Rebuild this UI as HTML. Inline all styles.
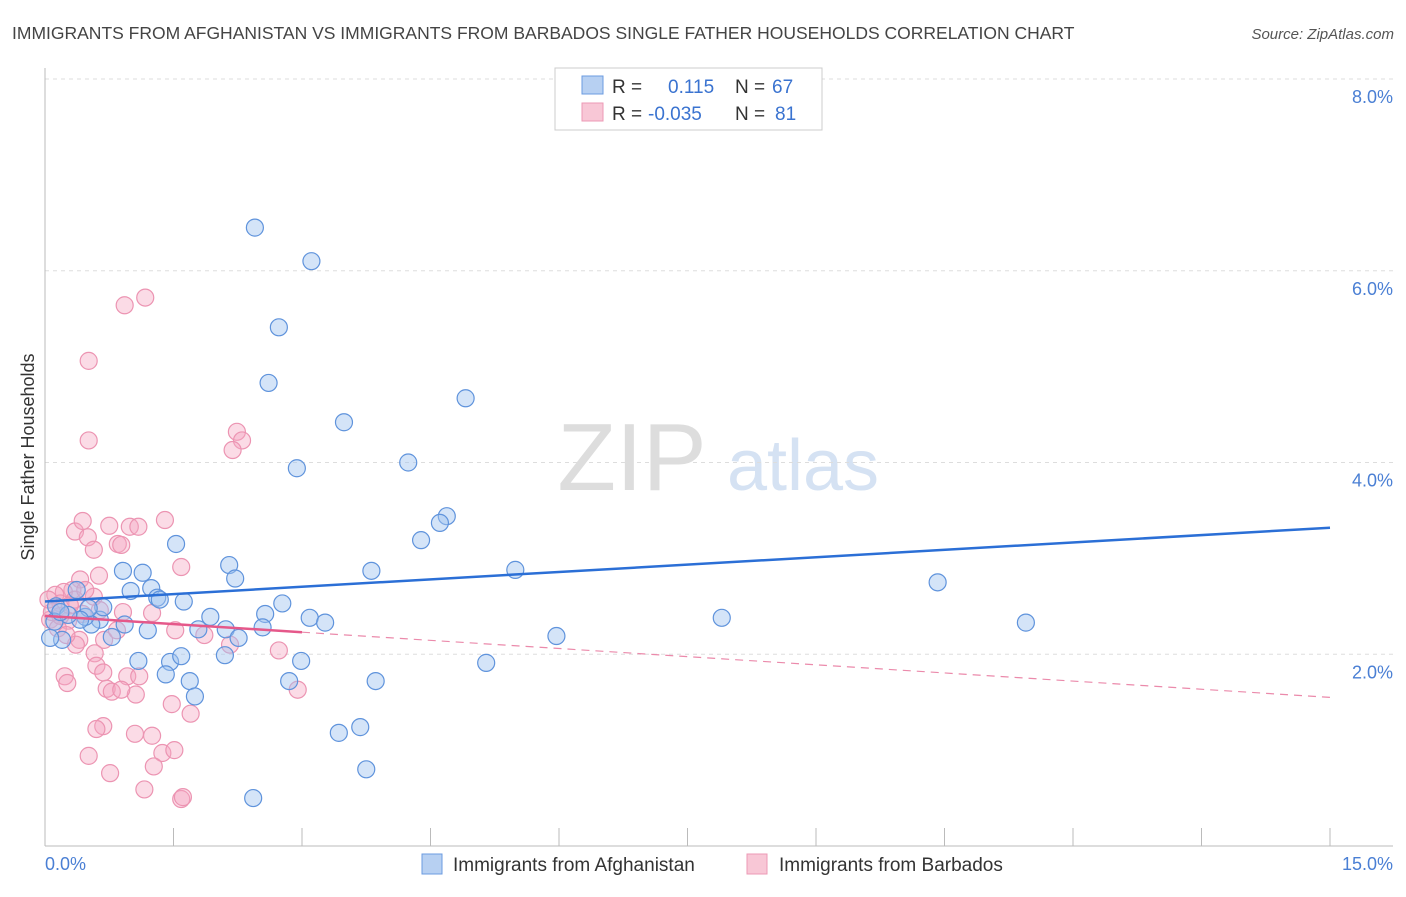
<!DOCTYPE html>
<html><head><meta charset="utf-8"><style>
body{margin:0;background:#fff;font-family:"Liberation Sans",sans-serif}
svg text{font-family:"Liberation Sans",sans-serif}
</style></head><body>
<svg id="c" width="1406" height="892">
<text x="12" y="39" font-size="17.5" fill="#444">IMMIGRANTS FROM AFGHANISTAN VS IMMIGRANTS FROM BARBADOS SINGLE FATHER HOUSEHOLDS CORRELATION CHART</text>
<text x="1394" y="39" font-size="15" fill="#555" font-style="italic" text-anchor="end">Source: ZipAtlas.com</text>
<text x="632" y="490" font-size="96" fill="#ddd" font-family="Liberation Serif" text-anchor="middle">ZIP</text>
<text x="803" y="490" font-size="72" fill="#d5e2f3" text-anchor="middle">atlas</text>
<g id="grid"></g><g id="axes"></g><g id="pts"></g><g id="lines"></g>
<text transform="translate(34,457) rotate(-90)" font-size="18" fill="#333" text-anchor="middle">Single Father Households</text>
<text x="45" y="870" font-size="18" fill="#4a7fd4">0.0%</text>
<text x="1393" y="870" font-size="18" fill="#4a7fd4" text-anchor="end">15.0%</text>
<g>
<rect x="555" y="68" width="267" height="62" fill="#fff" stroke="#ccc"/>
<rect x="582" y="76" width="21" height="18" fill="#b7d0f2" stroke="#6b9be0"/>
<rect x="582" y="103" width="21" height="18" fill="#f8c7d6" stroke="#ec9ab5"/>
<text x="612" y="93" font-size="19" fill="#333">R = </text><text x="668" y="93" font-size="19" fill="#3a73d0">0.115</text>
<text x="735" y="93" font-size="19" fill="#333">N = </text><text x="772" y="93" font-size="19" fill="#3a73d0">67</text>
<text x="612" y="120" font-size="19" fill="#333">R = </text><text x="648" y="120" font-size="19" fill="#3a73d0">-0.035</text>
<text x="735" y="120" font-size="19" fill="#333">N = </text><text x="775" y="120" font-size="19" fill="#3a73d0">81</text>
</g>
<g>
<rect x="422" y="854" width="20" height="20" fill="#b7d0f2" stroke="#6b9be0"/>
<text x="453" y="871" font-size="19" fill="#333">Immigrants from Afghanistan</text>
<rect x="747" y="854" width="20" height="20" fill="#f8c7d6" stroke="#ec9ab5"/>
<text x="779" y="871" font-size="19" fill="#333">Immigrants from Barbados</text>
</g>
</svg>
<script>
const yTicks=[2,4,6,8];
const yTickLabels=["2.0%","4.0%","6.0%","8.0%"];
const xTicks=[0,1.5,3,4.5,6,7.5,9,10.5,12,13.5,15];
const blueX=[2.45,3.11,2.73,2.61,4.91,3.49,2.94,4.24,4.69,4.61,4.39,5.49,3.81,1.53,2.15,2.22,0.91,1.14,1.24,1.00,1.31,1.34,1.62,2.77,1.93,2.57,3.09,3.27,2.54,2.11,1.79,2.26,1.20,0.93,0.64,0.54,0.47,0.68,0.51,0.37,0.13,0.11,0.20,0.78,1.09,1.46,1.59,2.10,2.99,5.15,5.97,7.90,10.42,11.45,1.41,1.69,1.75,2.85,3.86,3.68,3.43,3.75,2.43,0.41,0.06,0.27,0.18];
const blueY=[6.45,6.10,5.41,4.83,4.67,4.42,3.94,4.00,3.44,3.37,3.19,2.88,2.87,3.15,2.93,2.79,2.87,2.85,2.69,2.66,2.59,2.57,2.55,2.53,2.39,2.42,2.38,2.33,2.28,2.26,2.26,2.17,2.25,2.31,2.36,2.31,2.39,2.49,2.48,2.67,2.50,2.34,2.15,2.18,1.93,1.92,1.98,1.99,1.93,1.91,2.19,2.38,2.75,2.33,1.79,1.72,1.56,1.72,1.72,1.24,1.18,0.80,0.50,2.36,2.17,2.41,2.44];
const pinkX=[0.93,1.17,0.51,0.51,2.24,2.30,2.19,0.35,0.50,0.44,0.75,0.99,1.09,1.40,0.85,0.89,0.57,1.59,0.41,0.63,0.32,0.22,0.12,0.18,0.35,0.57,1.25,0.91,0.27,0.06,0.15,0.40,0.36,0.69,1.52,1.86,2.73,0.58,0.18,0.44,0.08,0.60,0.68,0.72,0.23,0.26,0.96,1.10,1.06,0.78,0.89,1.48,1.70,0.68,0.60,1.05,1.25,1.37,1.51,1.27,0.51,0.76,1.16,1.59,1.61,2.95,0.47,0.29,0.04,0.25,0.84,0.64,2.16];
const pinkY=[5.64,5.72,5.06,4.23,4.32,4.23,4.13,3.28,3.22,3.39,3.34,3.33,3.33,3.40,3.15,3.14,3.09,2.91,2.78,2.82,2.67,2.65,2.62,2.53,2.57,2.60,2.43,2.44,2.35,2.36,2.27,2.15,2.10,2.15,2.25,2.20,2.04,2.01,2.40,2.42,2.44,1.88,1.81,1.64,1.77,1.70,1.77,1.77,1.58,1.61,1.63,1.48,1.38,1.25,1.22,1.17,1.15,0.97,1.00,0.83,0.94,0.76,0.59,0.49,0.51,1.63,2.67,2.51,2.57,2.20,2.25,2.46,2.10];
const blueTrend=[[0,2.55],[15,3.32]];
const pinkTrend=[[0,2.40],[3,2.23],[15,1.55]];
const X=v=>45+v/15*1285, Y=v=>846-v/8*767;
const NS="http://www.w3.org/2000/svg";
function mk(p,t,a){const e=document.createElementNS(NS,t);for(const k in a)e.setAttribute(k,a[k]);p.appendChild(e);return e;}
const grid=document.getElementById('grid'),axes=document.getElementById('axes'),pts=document.getElementById('pts'),lines=document.getElementById('lines');
yTicks.forEach((t,i)=>{
 const l=mk(grid,'line',{x1:45,x2:1393,y1:Y(t),y2:Y(t),stroke:'#ddd','stroke-dasharray':'4,4'});
 
 
 const tx=mk(grid,'text',{x:1393,y:Y(t)+24,'font-size':18,fill:'#4a7fd4','text-anchor':'end'});
 tx.textContent=yTickLabels[i];
 
 
});
const ya=mk(axes,'line',{x1:45,x2:45,y1:68,y2:846,stroke:'#bbb'});


const xa=mk(axes,'line',{x1:45,x2:1393,y1:846,y2:846,stroke:'#bbb'});


xTicks.forEach(t=>{
 const l=mk(axes,'line',{x1:X(t),x2:X(t),y1:828,y2:846,stroke:'#bbb'});
 
 
});
pinkX.forEach((x,i)=>{
 const c=mk(pts,'circle',{cx:X(x),cy:Y(pinkY[i]),r:8.5,fill:'rgba(245,165,192,0.4)',stroke:'#ec94b2','stroke-width':1.2});
 
 
});
blueX.forEach((x,i)=>{
 const c=mk(pts,'circle',{cx:X(x),cy:Y(blueY[i]),r:8.5,fill:'rgba(160,196,240,0.45)',stroke:'#5f93dc','stroke-width':1.2});
 
 
});
const bl=mk(lines,'line',{x1:X(blueTrend[0][0]),y1:Y(blueTrend[0][1]),x2:X(blueTrend[1][0]),y2:Y(blueTrend[1][1]),stroke:'#2b6fd6','stroke-width':2.5});


const pl=mk(lines,'line',{x1:X(pinkTrend[0][0]),y1:Y(pinkTrend[0][1]),x2:X(pinkTrend[1][0]),y2:Y(pinkTrend[1][1]),stroke:'#e5588a','stroke-width':2.5});


const pd=mk(lines,'line',{x1:X(pinkTrend[1][0]),y1:Y(pinkTrend[1][1]),x2:X(pinkTrend[2][0]),y2:Y(pinkTrend[2][1]),stroke:'#eb8aab','stroke-width':1.2,'stroke-dasharray':'8,6'});


</script>
</body></html>
